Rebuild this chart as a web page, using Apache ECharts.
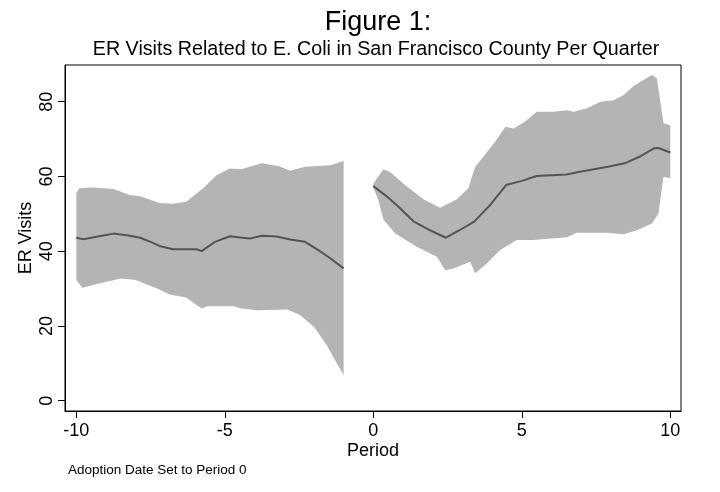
<!DOCTYPE html>
<html>
<head>
<meta charset="utf-8">
<script src="https://cdn.jsdelivr.net/npm/echarts@6/dist/echarts.min.js"></script>
<style>html,body{margin:0;padding:0;background:#fff}#c{width:720px;height:492px}</style>
</head>
<body>
<div id="c"></div>
<script>
var xTicks = [-10, -5, 0, 5, 10];
var yTicks = [0, 20, 40, 60, 80];

var leftMean = [[-10,43.6],[-9.75,43.2],[-9.5,43.6],[-9.0,44.3],[-8.75,44.7],[-8.25,44.2],[-7.85,43.6],[-7.5,42.5],[-7.2,41.4],[-6.75,40.5],[-5.95,40.5],[-5.78,40.0],[-5.33,42.5],[-4.83,44.0],[-4.4,43.6],[-4.15,43.4],[-3.75,44.1],[-3.25,43.9],[-2.8,43.1],[-2.3,42.5],[-1.85,40.3],[-1.45,38.1],[-1.0,35.4]];
var leftUpper = [[-10,55.5],[-9.9,56.8],[-9.45,57.0],[-8.75,56.6],[-8.2,55.0],[-7.85,54.7],[-7.2,52.9],[-6.75,52.7],[-6.3,53.2],[-5.73,56.8],[-5.28,60.3],[-4.83,62.1],[-4.45,61.9],[-3.75,63.5],[-3.2,62.8],[-2.8,61.5],[-2.3,62.6],[-1.45,63.0],[-1.0,64.1]];
var leftLower = [[-10,32.3],[-9.8,30.2],[-9.2,31.4],[-8.5,32.7],[-8.0,32.3],[-7.3,30.1],[-6.85,28.4],[-6.3,27.6],[-5.78,24.7],[-5.6,25.3],[-4.7,25.3],[-4.45,24.7],[-3.9,24.2],[-2.9,24.4],[-2.47,22.9],[-2.0,19.8],[-1.57,14.9],[-1.23,10.0],[-1.0,6.9]];

var rightMean = [[0,57.4],[0.4,55.0],[0.85,51.9],[1.35,48.0],[1.85,45.8],[2.45,43.6],[2.9,45.6],[3.4,47.9],[3.95,52.5],[4.47,57.7],[5.0,58.8],[5.5,60.1],[6.5,60.5],[7.0,61.3],[7.9,62.6],[8.5,63.6],[9.0,65.4],[9.45,67.5],[9.6,67.6],[10,66.4]];
var rightUpper = [[0,58.0],[0.12,59.5],[0.34,61.9],[0.56,61.2],[1.12,57.4],[1.7,53.8],[2.25,51.6],[2.8,53.8],[3.2,56.8],[3.43,62.6],[3.7,65.2],[4.1,69.3],[4.45,73.3],[4.72,72.8],[5.1,74.6],[5.5,77.3],[6.07,77.3],[6.52,77.7],[6.75,77.3],[7.2,78.2],[7.65,80.0],[8.1,80.4],[8.43,81.8],[8.76,84.2],[9.38,87.1],[9.55,86.2],[9.77,74.2],[10,73.7]];
var rightLower = [[0,57.0],[0.17,53.7],[0.34,48.5],[0.73,44.8],[1.46,41.2],[2.14,38.5],[2.42,34.9],[2.7,35.4],[3.26,37.2],[3.43,34.1],[3.82,36.7],[4.27,40.3],[4.83,43.0],[5.4,43.0],[6.52,43.7],[6.85,44.9],[7.87,44.9],[8.43,44.5],[8.88,45.6],[9.38,47.4],[9.6,50.1],[9.77,59.9],[10,59.5]];

var FONT = 'Liberation Sans, Arial, Helvetica, sans-serif';

function bandSeries(upper, lower) {
  return {
    type: 'custom',
    data: [upper[0]],
    silent: true,
    z: 1,
    renderItem: function (params, api) {
      var pts = [];
      upper.forEach(function (p) { pts.push(api.coord(p)); });
      lower.slice().reverse().forEach(function (p) { pts.push(api.coord(p)); });
      return { type: 'polygon', shape: { points: pts }, style: { fill: '#b4b4b4', stroke: null } };
    }
  };
}
function lineSeries(data) {
  return {
    type: 'line', data: data, symbol: 'none', z: 3, silent: true,
    lineStyle: { color: '#555555', width: 2 }
  };
}

var chart = echarts.init(document.getElementById('c'), null, { renderer: 'canvas' });
chart.setOption({
  animation: false,
  backgroundColor: '#ffffff',
  title: [
    { text: 'Figure 1:', left: 373, top: 4, textAlign: 'center',
      textStyle: { fontFamily: FONT, fontSize: 27, fontWeight: 'normal', color: '#000' } },
    { text: 'ER Visits Related to E. Coli in San Francisco County Per Quarter', left: 371, top: 35, textAlign: 'center',
      textStyle: { fontFamily: FONT, fontSize: 19.7, fontWeight: 'normal', color: '#000' } }
  ],
  grid: { left: 65, right: 39, top: 65, bottom: 81, show: true, borderColor: '#000', borderWidth: 1, backgroundColor: 'transparent' },
  xAxis: {
    type: 'value', min: -10.38, max: 10.36,
    name: 'Period', nameLocation: 'middle', nameGap: 31, nameMoveOverlap: false,
    nameTextStyle: { fontFamily: FONT, fontSize: 18, color: '#000' },
    axisLine: { show: true, onZero: false, lineStyle: { color: '#000', width: 1 } },
    axisTick: { show: true, length: 7, lineStyle: { color: '#000' }, customValues: xTicks },
    axisLabel: { margin: 11, fontFamily: FONT, fontSize: 18, color: '#000', customValues: xTicks },
    splitLine: { show: false }
  },
  yAxis: {
    type: 'value', min: -2.75, max: 89.8,
    name: 'ER Visits', nameLocation: 'middle', nameGap: 30, nameRotate: 90, nameMoveOverlap: false,
    nameTextStyle: { fontFamily: FONT, fontSize: 18, color: '#000' },
    axisLine: { show: true, onZero: false, lineStyle: { color: '#000', width: 1 } },
    axisTick: { show: true, length: 7, lineStyle: { color: '#000' }, customValues: yTicks },
    axisLabel: { margin: 9, rotate: 90, fontFamily: FONT, fontSize: 18, color: '#000', customValues: yTicks },
    splitLine: { show: false }
  },
  graphic: [
    { type: 'text', left: 68, top: 463, style: { text: 'Adoption Date Set to Period 0', font: '13.5px ' + FONT, fill: '#000' } }
  ],
  series: [
    bandSeries(leftUpper, leftLower),
    bandSeries(rightUpper, rightLower),
    lineSeries(leftMean),
    lineSeries(rightMean)
  ]
});
</script>
</body>
</html>
